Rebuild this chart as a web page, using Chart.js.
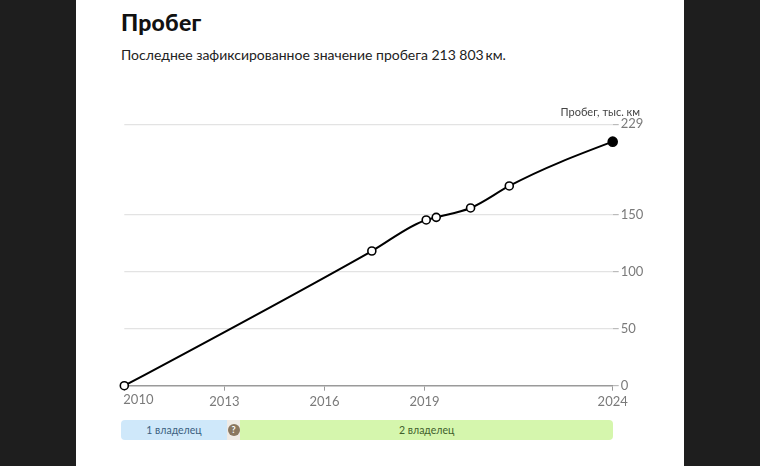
<!DOCTYPE html>
<html>
<head>
<meta charset="utf-8">
<script src="https://cdn.jsdelivr.net/npm/chart.js@4"></script>
<style>
  html, body { margin:0; padding:0; width:760px; height:466px; overflow:hidden; background:#1e1e1e; font-family: Lato, "Noto Sans", sans-serif; }
  #panel { position:absolute; left:76px; top:0; width:608px; height:466px; background:#fff; }
  #title { position:absolute; left:121px; top:8px; font-size:23px; font-weight:900; color:#111; letter-spacing:0.2px; }
  #subtitle { position:absolute; left:121px; top:46px; font-size:14px; color:#222; }
  #ylabel { position:absolute; right:120px; top:105px; font-size:11px; color:#444; }
  #wrap { position:absolute; left:0; top:0; width:760px; height:466px; }
  .owner { position:absolute; top:420px; height:20px; line-height:20px; font-size:10.5px; text-align:center; border-radius:4px; }
  .q { position:absolute; top:424px; width:12px; height:12px; border-radius:6px; background:#8a7760; color:#fff; font-size:9px; font-weight:700; line-height:12px; text-align:center; }
</style>
</head>
<body>
<div id="panel"></div>
<div id="title">Пробег</div>
<div id="subtitle">Последнее зафиксированное значение пробега 213&#8239;803&#8201;км.</div>
<div id="wrap"><canvas id="c" width="760" height="466"></canvas></div>
<div id="ylabel">Пробег, тыс. км</div>
<div id="owners"></div>
<script>
const years   = [2010.0, 2017.42, 2019.05, 2019.35, 2020.38, 2021.54, 2024.64];
const mileage = [0, 118.0, 145.2, 147.5, 155.7, 175.0, 213.8];
const xTickValues = [2010, 2013, 2016, 2019, 2024.64];
const xTickLabels = ['2010', '2013', '2016', '2019', '2024'];
const yTickValues = [0, 50, 100, 150, 229];
const ownerNames  = ['1 владелец', '?', '2 владелец'];
const ownerStarts = [2009.9, 2013.08, 2013.47];
const ownerEnds   = [2013.08, 2013.47, 2024.66];

const points = years.map((y, i) => ({ x: y, y: mileage[i] }));
const lastIdx = points.length - 1;

// monotone-X tangents (same curve family as the original's smooth line)
const monotoneXPlugin = {
  id: 'monotoneX',
  beforeDatasetDraw(chart, args) {
    const meta = args.meta;
    const line = meta.dataset;
    const pts = meta.data;
    const n = pts.length;
    if (n < 3) return;
    const sign = v => v < 0 ? -1 : 1;
    const t = new Array(n).fill(0);
    for (let i = 1; i < n - 1; i++) {
      const h0 = pts[i].x - pts[i-1].x, h1 = pts[i+1].x - pts[i].x;
      const s0 = (pts[i].y - pts[i-1].y) / h0, s1 = (pts[i+1].y - pts[i].y) / h1;
      const p = (s0 * h1 + s1 * h0) / (h0 + h1);
      t[i] = (sign(s0) + sign(s1)) * Math.min(Math.abs(s0), Math.abs(s1), 0.5 * Math.abs(p)) || 0;
    }
    const hA = pts[1].x - pts[0].x;
    t[0] = (3 * (pts[1].y - pts[0].y) / hA - t[1]) / 2;
    const hB = pts[n-1].x - pts[n-2].x;
    t[n-1] = (3 * (pts[n-1].y - pts[n-2].y) / hB - t[n-2]) / 2;
    for (let i = 0; i < n; i++) {
      const p = pts[i];
      if (i < n - 1) {
        const h = (pts[i+1].x - p.x) / 3;
        p.cp2x = p.x + h; p.cp2y = p.y + t[i] * h;
      } else { p.cp2x = p.x; p.cp2y = p.y; }
      if (i > 0) {
        const h = (p.x - pts[i-1].x) / 3;
        p.cp1x = p.x - h; p.cp1y = p.y - t[i] * h;
      } else { p.cp1x = p.x; p.cp1y = p.y; }
    }
    line._pointsUpdated = true;
  }
};

const firstLabelPlugin = {
  id: 'firstLabel',
  afterDraw(chart) {
    const s = chart.scales.x;
    const ctx = chart.ctx;
    ctx.save();
    ctx.font = '13px Lato';
    ctx.fillStyle = '#7a7a7a';
    ctx.textAlign = 'left';
    ctx.textBaseline = 'top';
    ctx.fillText(xTickLabels[0], s.getPixelForValue(xTickValues[0]) - 1, s.top + 5 + 3);
    ctx.restore();
  }
};

const chart = new Chart(document.getElementById('c'), {
  type: 'line',
  data: {
    datasets: [{
      data: points,
      borderColor: '#000',
      borderWidth: 2,
      tension: 0.4,
      capBezierPoints: false,
      pointRadius: ctx => ctx.dataIndex === lastIdx ? 4.5 : 4,
      pointBackgroundColor: ctx => ctx.dataIndex === lastIdx ? '#000' : '#fff',
      pointBorderColor: '#000',
      pointBorderWidth: 1.6,
      fill: false,
      clip: false
    }]
  },
  options: {
    responsive: false,
    animation: false,
    layout: { padding: { left: 124.3, right: 107.3, top: 124.3, bottom: 56.3 } },
    plugins: { legend: { display: false }, tooltip: { enabled: false } },
    scales: {
      x: {
        type: 'linear',
        min: xTickValues[0],
        max: xTickValues[xTickValues.length - 1],
        afterBuildTicks: s => { s.ticks = xTickValues.map(v => ({ value: v })); },
        afterFit: s => { s.height = 24; },
        ticks: {
          autoSkip: false,
          maxRotation: 0,
          padding: 3,
          font: { family: 'Lato', size: 13 },
          color: ctx => ctx.index === 0 ? 'rgba(0,0,0,0)' : '#7a7a7a',
          callback: (v, i) => xTickLabels[i]
        },
        grid: { drawOnChartArea: false, drawTicks: true, tickLength: 5, color: '#9a9a9a' },
        border: { display: true, color: '#9a9a9a', width: 1.5 }
      },
      y: {
        position: 'right',
        min: 0,
        max: 229,
        afterBuildTicks: s => { s.ticks = yTickValues.map(v => ({ value: v })); },
        afterFit: s => { s.width = 40; },
        ticks: {
          padding: 2,
          font: { family: 'Lato', size: 13 },
          color: '#7a7a7a',
          callback: v => String(v)
        },
        grid: { color: ctx => ctx.tick && ctx.tick.value === 0 ? 'rgba(0,0,0,0)' : '#e3e3e3', tickColor: '#bbbbbb', tickLength: 6, lineWidth: 1.2 },
        border: { display: false }
      }
    }
  },
  plugins: [monotoneXPlugin, firstLabelPlugin]
});

// owner bar, positioned from the chart's own x scale
const xs = chart.scales.x;
const ownersDiv = document.getElementById('owners');
const ownerStyles = [
  { bg: '#cfe8fa', color: '#3b5f80' },
  { bg: '#efebe6', color: '#fff' },
  { bg: '#d5f6ad', color: '#3f5f2c' }
];
ownerNames.forEach((name, i) => {
  const l = xs.getPixelForValue(ownerStarts[i]);
  const r = xs.getPixelForValue(ownerEnds[i]);
  const d = document.createElement('div');
  d.className = 'owner';
  d.style.left = l + 'px';
  d.style.width = (r - l) + 'px';
  d.style.background = ownerStyles[i].bg;
  d.style.color = ownerStyles[i].color;
  if (i === 0) { d.style.borderRadius = '4px 0 0 4px'; }
  if (i === 1) { d.style.borderRadius = '0'; }
  if (i === 2) { d.style.borderRadius = '0 4px 4px 0'; }
  if (name === '?') {
    const q = document.createElement('div');
    q.className = 'q';
    q.textContent = '?';
    q.style.left = ((r - l) / 2 - 6) + 'px';
    q.style.top = '4px';
    d.appendChild(q);
  } else {
    d.textContent = name;
  }
  ownersDiv.appendChild(d);
});
</script>
</body>
</html>
